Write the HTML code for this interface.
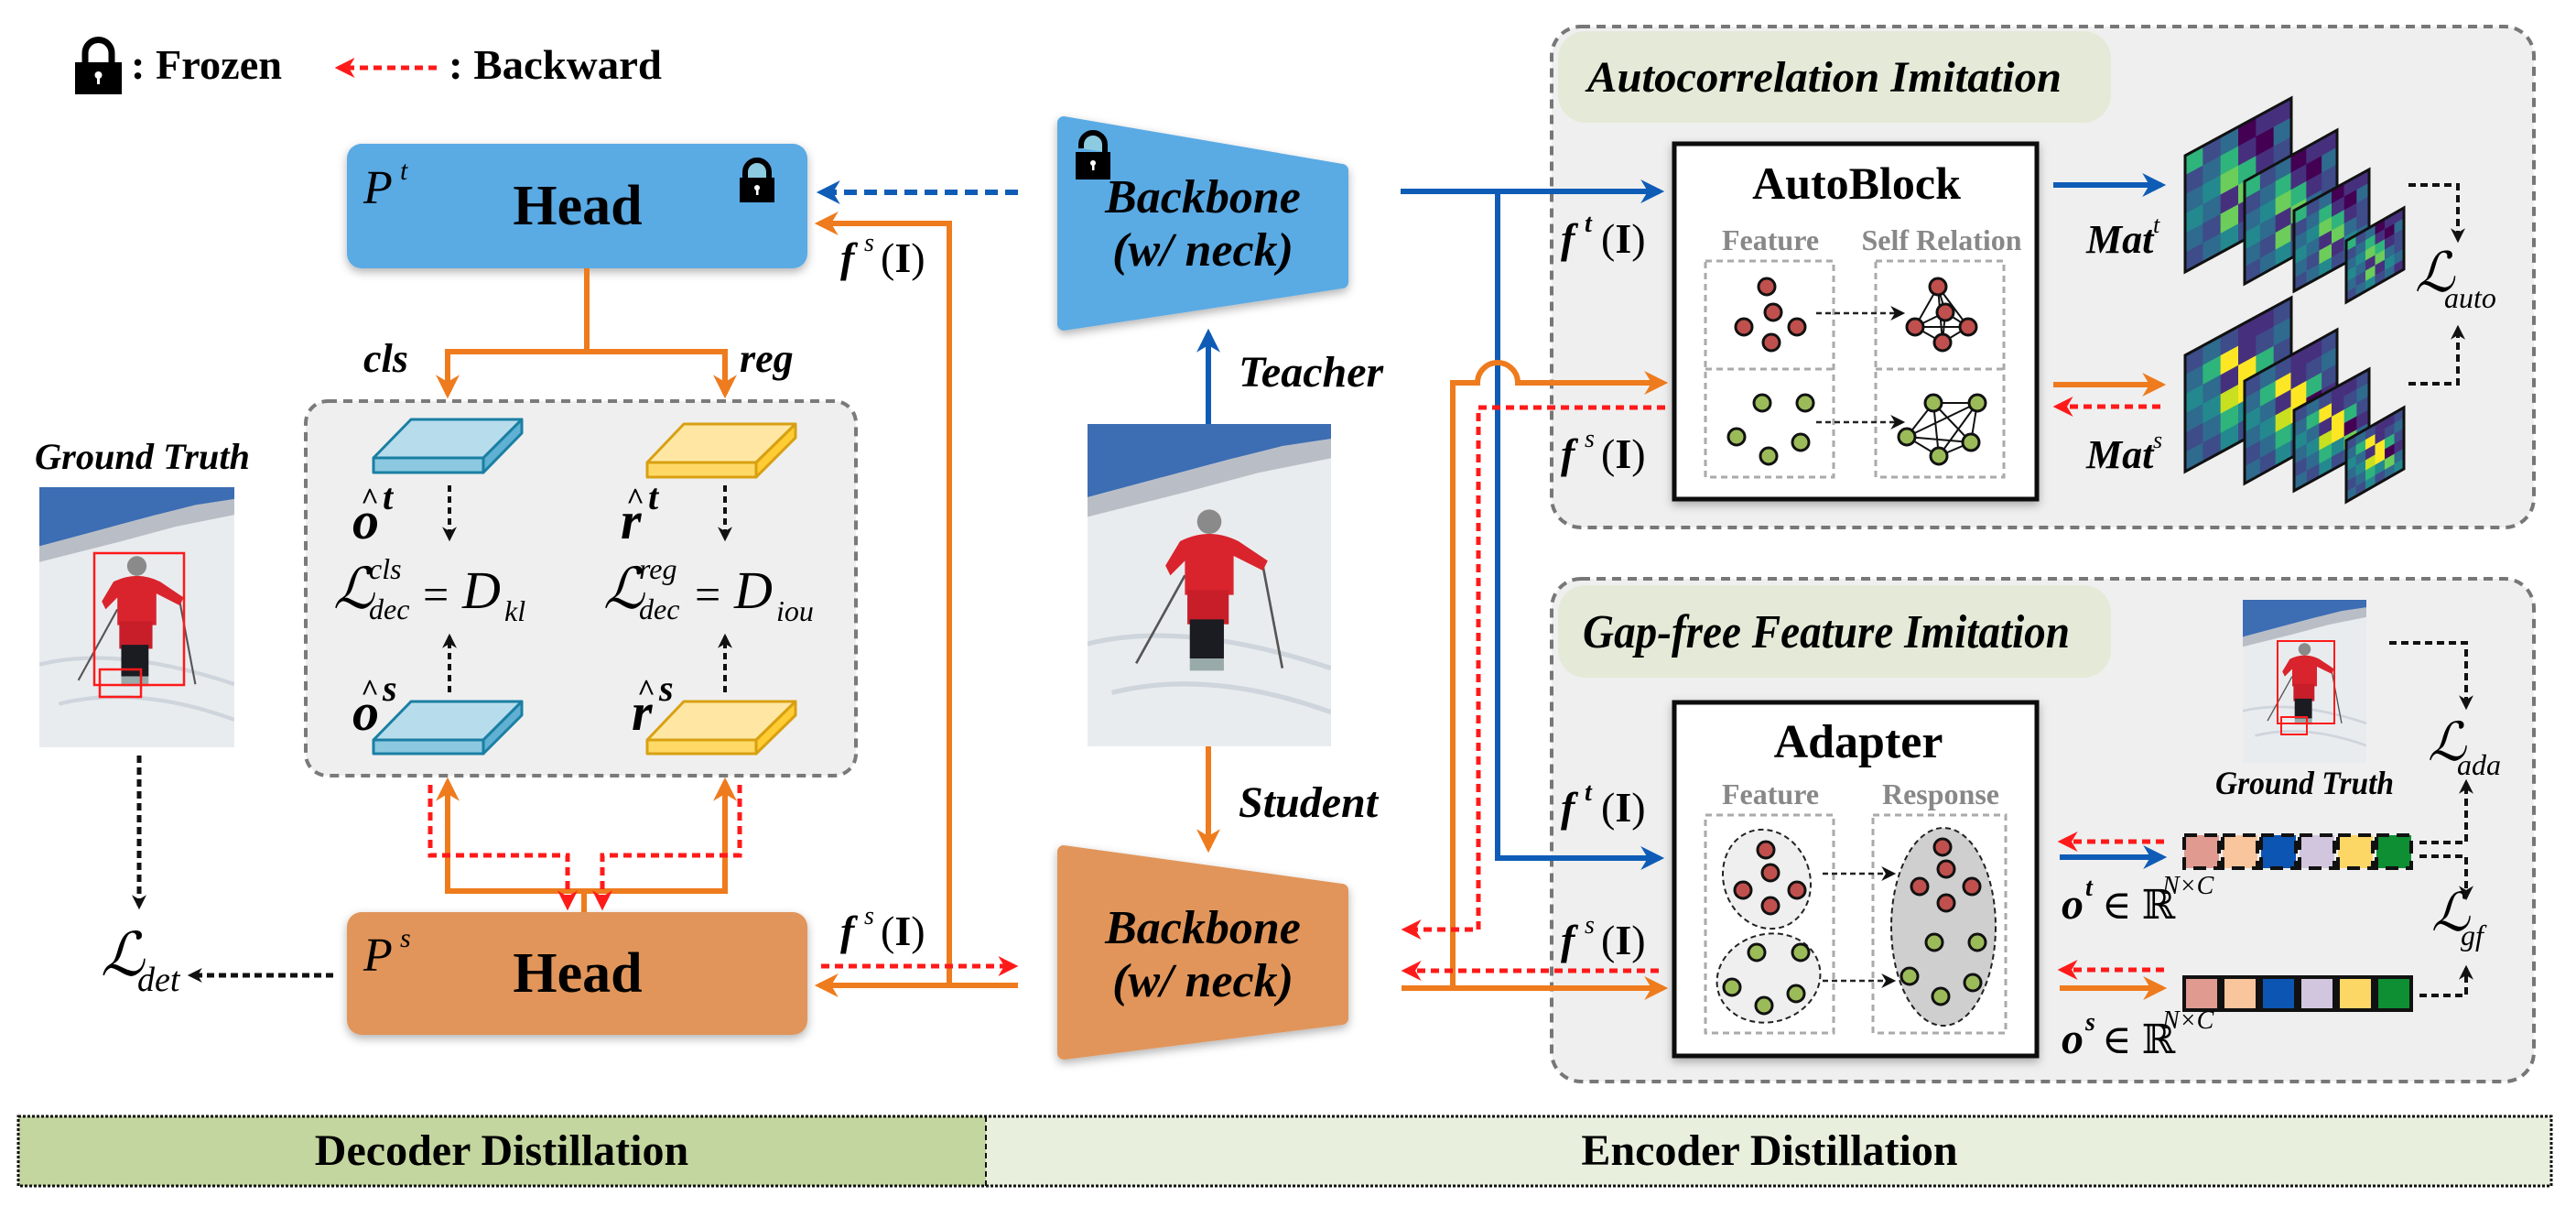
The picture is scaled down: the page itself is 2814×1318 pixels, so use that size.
<!DOCTYPE html>
<html><head><meta charset="utf-8">
<style>
html,body{margin:0;padding:0;background:#fff;}
svg{display:block;font-family:"Liberation Serif","DejaVu Serif",serif;}
text{font-family:"Liberation Serif","DejaVu Serif",serif;}
.b{font-weight:bold;}
.i{font-style:italic;}
</style></head>
<body>
<svg width="2814" height="1318" viewBox="0 0 2814 1318" xmlns="http://www.w3.org/2000/svg" font-family="Liberation Serif, DejaVu Serif, serif">
<defs>
<marker id="ao" viewBox="0 0 10 10" refX="8" refY="5" markerWidth="28" markerHeight="26" markerUnits="userSpaceOnUse" orient="auto"><path d="M0,0 L10,5 L0,10 L3,5z" fill="#ee7b1d"/></marker>
<marker id="ab" viewBox="0 0 10 10" refX="8" refY="5" markerWidth="28" markerHeight="26" markerUnits="userSpaceOnUse" orient="auto"><path d="M0,0 L10,5 L0,10 L3,5z" fill="#0f5cb6"/></marker>
<marker id="ar" viewBox="0 0 10 10" refX="8" refY="5" markerWidth="24" markerHeight="22" markerUnits="userSpaceOnUse" orient="auto"><path d="M0,0 L10,5 L0,10 L3,5z" fill="#ff1a1a"/></marker>
<marker id="ak" viewBox="0 0 10 10" refX="8" refY="5" markerWidth="18" markerHeight="16" markerUnits="userSpaceOnUse" orient="auto"><path d="M0,0 L10,5 L0,10 L3,5z" fill="#111"/></marker>
<filter id="sh" x="-10%" y="-10%" width="120%" height="130%"><feDropShadow dx="0" dy="4" stdDeviation="5" flood-color="#000" flood-opacity="0.3"/></filter>

<symbol id="photo" viewBox="0 0 100 132" preserveAspectRatio="none">
 <rect width="100" height="132" fill="#e9ecef"/>
 <polygon points="0,0 100,0 100,8 60,14 30,22 0,30" fill="#3d6db3"/>
 <polygon points="0,30 30,22 60,14 80,9 100,6 100,14 70,20 40,28 0,38" fill="#b9bec6"/>
 <path d="M0,90 Q40,80 100,100" stroke="#cfd5dc" stroke-width="2" fill="none"/>
 <path d="M10,110 Q50,100 100,118" stroke="#cfd5dc" stroke-width="2" fill="none"/>
 <line x1="40" y1="62" x2="20" y2="98" stroke="#555" stroke-width="1"/>
 <line x1="72" y1="58" x2="80" y2="100" stroke="#555" stroke-width="1"/>
 <circle cx="50" cy="40" r="5" fill="#8a8a8a"/>
 <path d="M38,48 Q50,42 62,48 L74,56 L72,60 L60,54 L60,70 L40,70 L40,56 L34,62 L32,58z" fill="#d9242e"/>
 <rect x="41" y="68" width="17" height="14" fill="#c81e2a"/>
 <rect x="42" y="80" width="14" height="16" fill="#1b1b22"/>
 <rect x="42" y="96" width="14" height="5" fill="#9aa"/>
</symbol>

<g id="ht">
 <rect x="0" y="0" width=".17" height=".17" fill="#2fb47c"/><rect x=".1667" y="0" width=".17" height=".17" fill="#3e4c8a"/><rect x=".3333" y="0" width=".17" height=".17" fill="#2f6b8e"/><rect x=".5" y="0" width=".17" height=".17" fill="#440154"/><rect x=".6667" y="0" width=".17" height=".17" fill="#46307e"/><rect x=".8333" y="0" width=".17" height=".17" fill="#46307e"/>
 <rect x="0" y=".1667" width=".17" height=".17" fill="#3e4c8a"/><rect x=".1667" y=".1667" width=".17" height=".17" fill="#2f6b8e"/><rect x=".3333" y=".1667" width=".17" height=".17" fill="#2fb47c"/><rect x=".5" y=".1667" width=".17" height=".17" fill="#46307e"/><rect x=".6667" y=".1667" width=".17" height=".17" fill="#440154"/><rect x=".8333" y=".1667" width=".17" height=".17" fill="#2f6b8e"/>
 <rect x="0" y=".3333" width=".17" height=".17" fill="#2f6b8e"/><rect x=".1667" y=".3333" width=".17" height=".17" fill="#23898e"/><rect x=".3333" y=".3333" width=".17" height=".17" fill="#6ccd5a"/><rect x=".5" y=".3333" width=".17" height=".17" fill="#2fb47c"/><rect x=".6667" y=".3333" width=".17" height=".17" fill="#46307e"/><rect x=".8333" y=".3333" width=".17" height=".17" fill="#3e4c8a"/>
 <rect x="0" y=".5" width=".17" height=".17" fill="#23898e"/><rect x=".1667" y=".5" width=".17" height=".17" fill="#2f6b8e"/><rect x=".3333" y=".5" width=".17" height=".17" fill="#46307e"/><rect x=".5" y=".5" width=".17" height=".17" fill="#6ccd5a"/><rect x=".6667" y=".5" width=".17" height=".17" fill="#2f6b8e"/><rect x=".8333" y=".5" width=".17" height=".17" fill="#3e4c8a"/>
 <rect x="0" y=".6667" width=".17" height=".17" fill="#2f6b8e"/><rect x=".1667" y=".6667" width=".17" height=".17" fill="#3e4c8a"/><rect x=".3333" y=".6667" width=".17" height=".17" fill="#6ccd5a"/><rect x=".5" y=".6667" width=".17" height=".17" fill="#46307e"/><rect x=".6667" y=".6667" width=".17" height=".17" fill="#23898e"/><rect x=".8333" y=".6667" width=".17" height=".17" fill="#2f6b8e"/>
 <rect x="0" y=".8333" width=".17" height=".17" fill="#3e4c8a"/><rect x=".1667" y=".8333" width=".17" height=".17" fill="#2f6b8e"/><rect x=".3333" y=".8333" width=".17" height=".17" fill="#23898e"/><rect x=".5" y=".8333" width=".17" height=".17" fill="#3e4c8a"/><rect x=".6667" y=".8333" width=".17" height=".17" fill="#2f6b8e"/><rect x=".8333" y=".8333" width=".17" height=".17" fill="#46307e"/>
 <rect x="0" y="0" width="1" height="1" fill="none" stroke="#111" stroke-width="3" vector-effect="non-scaling-stroke"/>
</g>
<g id="hs">
 <rect x="0" y="0" width=".17" height=".17" fill="#3e4c8a"/><rect x=".1667" y="0" width=".17" height=".17" fill="#2f6b8e"/><rect x=".3333" y="0" width=".17" height=".17" fill="#3e4c8a"/><rect x=".5" y="0" width=".17" height=".17" fill="#46307e"/><rect x=".6667" y="0" width=".17" height=".17" fill="#46307e"/><rect x=".8333" y="0" width=".17" height=".17" fill="#3e4c8a"/>
 <rect x="0" y=".1667" width=".17" height=".17" fill="#2f6b8e"/><rect x=".1667" y=".1667" width=".17" height=".17" fill="#2fb47c"/><rect x=".3333" y=".1667" width=".17" height=".17" fill="#fde725"/><rect x=".5" y=".1667" width=".17" height=".17" fill="#46307e"/><rect x=".6667" y=".1667" width=".17" height=".17" fill="#3e4c8a"/><rect x=".8333" y=".1667" width=".17" height=".17" fill="#2f6b8e"/>
 <rect x="0" y=".3333" width=".17" height=".17" fill="#23898e"/><rect x=".1667" y=".3333" width=".17" height=".17" fill="#2f6b8e"/><rect x=".3333" y=".3333" width=".17" height=".17" fill="#46307e"/><rect x=".5" y=".3333" width=".17" height=".17" fill="#fde725"/><rect x=".6667" y=".3333" width=".17" height=".17" fill="#2fb47c"/><rect x=".8333" y=".3333" width=".17" height=".17" fill="#3e4c8a"/>
 <rect x="0" y=".5" width=".17" height=".17" fill="#2f6b8e"/><rect x=".1667" y=".5" width=".17" height=".17" fill="#23898e"/><rect x=".3333" y=".5" width=".17" height=".17" fill="#c8e020"/><rect x=".5" y=".5" width=".17" height=".17" fill="#fde725"/><rect x=".6667" y=".5" width=".17" height=".17" fill="#440154"/><rect x=".8333" y=".5" width=".17" height=".17" fill="#46307e"/>
 <rect x="0" y=".6667" width=".17" height=".17" fill="#3e4c8a"/><rect x=".1667" y=".6667" width=".17" height=".17" fill="#2f6b8e"/><rect x=".3333" y=".6667" width=".17" height=".17" fill="#2fb47c"/><rect x=".5" y=".6667" width=".17" height=".17" fill="#23898e"/><rect x=".6667" y=".6667" width=".17" height=".17" fill="#6ccd5a"/><rect x=".8333" y=".6667" width=".17" height=".17" fill="#2f6b8e"/>
 <rect x="0" y=".8333" width=".17" height=".17" fill="#2f6b8e"/><rect x=".1667" y=".8333" width=".17" height=".17" fill="#3e4c8a"/><rect x=".3333" y=".8333" width=".17" height=".17" fill="#23898e"/><rect x=".5" y=".8333" width=".17" height=".17" fill="#3e4c8a"/><rect x=".6667" y=".8333" width=".17" height=".17" fill="#2f6b8e"/><rect x=".8333" y=".8333" width=".17" height=".17" fill="#23898e"/>
 <rect x="0" y="0" width="1" height="1" fill="none" stroke="#111" stroke-width="3" vector-effect="non-scaling-stroke"/>
</g>
</defs>

<!-- Legend -->
<path d="M93,72 V58 A14.5,14.5 0 0 1 122,58 V72" stroke="#000" stroke-width="7" fill="none"/>
<rect x="82" y="68" width="51" height="35" fill="#000"/>
<circle cx="107.5" cy="82" r="4" fill="#fff"/><rect x="106" y="82" width="3" height="10" fill="#fff"/>
<text x="143" y="86" font-size="46" class="b" textLength="165" lengthAdjust="spacingAndGlyphs">: Frozen</text>
<line x1="477" y1="74" x2="370" y2="74" stroke="#ff1a1a" stroke-width="5" stroke-dasharray="9 6" marker-end="url(#ar)"/>
<text x="490" y="86" font-size="46" class="b" textLength="233" lengthAdjust="spacingAndGlyphs">: Backward</text>

<!-- Teacher head -->
<rect x="379" y="157" width="503" height="136" rx="16" fill="#5aaae4" filter="url(#sh)"/>
<text x="397" y="222" font-size="52" class="i">P</text><text x="437" y="196" font-size="30" class="i">t</text>
<text x="631" y="245" font-size="62" class="b" text-anchor="middle">Head</text>
<path d="M814,196 V188 A13,13 0 0 1 840,188 V196" stroke="#000" stroke-width="6" fill="#8ccbe0"/>
<rect x="808" y="194" width="38" height="27" fill="#000"/>
<circle cx="827" cy="205" r="3" fill="#fff"/><rect x="826" y="205" width="2.5" height="8" fill="#fff"/>

<!-- Student head -->
<rect x="379" y="996" width="503" height="134" rx="16" fill="#e1955a" filter="url(#sh)"/>
<text x="397" y="1060" font-size="52" class="i">P</text><text x="437" y="1034" font-size="30" class="i">s</text>
<text x="631" y="1083" font-size="62" class="b" text-anchor="middle">Head</text>

<!-- decoder internal lines -->
<path d="M641,293 V384" stroke="#ee7b1d" stroke-width="6" fill="none"/>
<path d="M641,384 H489 V430" stroke="#ee7b1d" stroke-width="6" fill="none" marker-end="url(#ao)"/>
<path d="M641,384 H792 V430" stroke="#ee7b1d" stroke-width="6" fill="none" marker-end="url(#ao)"/>
<text x="397" y="406" font-size="44" class="b i">cls</text>
<text x="808" y="406" font-size="44" class="b i">reg</text>

<rect x="334" y="438" width="601" height="409" rx="24" fill="#efefef" stroke="#7a7a7a" stroke-width="4" stroke-dasharray="10 7"/>

<!-- cuboids -->
<g stroke="#1a7fa3" stroke-width="3" stroke-linejoin="round">
 <polygon points="449,458 570,458 528,500 408,500" fill="#b7dcec"/>
 <polygon points="408,500 528,500 528,516 408,516" fill="#8cc8e0"/>
 <polygon points="528,500 570,458 570,473 528,516" fill="#5fb0d2"/>
 <polygon points="449,766 570,766 528,808 408,808" fill="#b7dcec"/>
 <polygon points="408,808 528,808 528,823 408,823" fill="#8cc8e0"/>
 <polygon points="528,808 570,766 570,781 528,823" fill="#5fb0d2"/>
</g>
<g stroke="#d8a012" stroke-width="3" stroke-linejoin="round">
 <polygon points="747,463 869,463 826,505 707,505" fill="#ffe7a3"/>
 <polygon points="707,505 826,505 826,521 707,521" fill="#ffd966"/>
 <polygon points="826,505 869,463 869,478 826,521" fill="#ffcc33"/>
 <polygon points="747,766 869,766 826,808 707,808" fill="#ffe7a3"/>
 <polygon points="707,808 826,808 826,823 707,823" fill="#ffd966"/>
 <polygon points="826,808 869,766 869,781 826,823" fill="#ffcc33"/>
</g>
<g class="b i">
 <text x="385" y="588" font-size="58">o</text><text x="394" y="556" font-size="34">^</text><text x="418" y="556" font-size="40">t</text>
 <text x="678" y="588" font-size="58">r</text><text x="684" y="556" font-size="34">^</text><text x="708" y="556" font-size="40">t</text>
 <text x="385" y="797" font-size="58">o</text><text x="394" y="765" font-size="34">^</text><text x="418" y="765" font-size="40">s</text>
 <text x="690" y="797" font-size="58">r</text><text x="696" y="765" font-size="34">^</text><text x="720" y="765" font-size="40">s</text>
</g>
<g class="i">
 <text x="364" y="664" font-size="62">ℒ</text><text x="403" y="632" font-size="32">cls</text><text x="403" y="676" font-size="32">dec</text>
 <text x="462" y="666" font-size="50" style="font-style:normal">=</text><text x="505" y="664" font-size="58">D</text><text x="551" y="678" font-size="32">kl</text>
 <text x="659" y="664" font-size="62">ℒ</text><text x="698" y="632" font-size="32">reg</text><text x="698" y="676" font-size="32">dec</text>
 <text x="759" y="666" font-size="50" style="font-style:normal">=</text><text x="802" y="664" font-size="58">D</text><text x="848" y="678" font-size="32">iou</text>
</g>
<g stroke="#111" stroke-width="4" stroke-dasharray="7 5" fill="none">
 <path d="M491,530 V588" marker-end="url(#ak)"/><path d="M792,530 V588" marker-end="url(#ak)"/>
 <path d="M491,756 V695" marker-end="url(#ak)"/><path d="M792,756 V695" marker-end="url(#ak)"/>
</g>

<!-- below box -->
<path d="M638,996 V973" stroke="#ee7b1d" stroke-width="6" fill="none"/>
<path d="M638,973 H489 V854" stroke="#ee7b1d" stroke-width="6" fill="none" marker-end="url(#ao)"/>
<path d="M638,973 H792 V854" stroke="#ee7b1d" stroke-width="6" fill="none" marker-end="url(#ao)"/>
<path d="M470,857 V934 H620 V990" stroke="#ff1a1a" stroke-width="5" stroke-dasharray="9 6" fill="none" marker-end="url(#ar)"/>
<path d="M808,857 V934 H658 V990" stroke="#ff1a1a" stroke-width="5" stroke-dasharray="9 6" fill="none" marker-end="url(#ar)"/>

<!-- ground truth left -->
<text x="38" y="512" font-size="40" class="b i" textLength="235" lengthAdjust="spacingAndGlyphs">Ground Truth</text>
<use href="#photo" x="43" y="532" width="213" height="284"/>
<rect x="103" y="604" width="98" height="144" fill="none" stroke="#ff1a1a" stroke-width="2.5"/>
<rect x="109" y="731" width="45" height="30" fill="none" stroke="#ff1a1a" stroke-width="2.5"/>
<path d="M152,825 V990" stroke="#111" stroke-width="5" stroke-dasharray="8 5" fill="none" marker-end="url(#ak)"/>
<text x="110" y="1065" font-size="66" class="i">ℒ</text><text x="150" y="1082" font-size="38" class="i">det</text>
<path d="M364,1065 H208" stroke="#111" stroke-width="5" stroke-dasharray="8 5" fill="none" marker-end="url(#ak)"/>

<!-- left connectors -->
<path d="M1112,210 H897" stroke="#0f5cb6" stroke-width="6" stroke-dasharray="14 8" fill="none" marker-end="url(#ab)"/>
<path d="M1037,1076 V244 H895" stroke="#ee7b1d" stroke-width="6" fill="none" marker-end="url(#ao)"/>
<path d="M1112,1076 H895" stroke="#ee7b1d" stroke-width="6" fill="none" marker-end="url(#ao)"/>
<path d="M897,1055 H1108" stroke="#ff1a1a" stroke-width="5" stroke-dasharray="9 6" fill="none" marker-end="url(#ar)"/>
<text x="918" y="297" font-size="46" class="b i">f</text><text x="944" y="274" font-size="28" class="i">s</text><text x="962" y="297" font-size="46">(<tspan class="b">I</tspan>)</text>
<text x="918" y="1032" font-size="46" class="b i">f</text><text x="944" y="1009" font-size="28" class="i">s</text><text x="962" y="1032" font-size="46">(<tspan class="b">I</tspan>)</text>

<!-- backbones -->
<polygon points="1162,134 1466,186 1466,308 1162,354" fill="#5aaae4" stroke="#5aaae4" stroke-width="14" stroke-linejoin="round" filter="url(#sh)"/>
<path d="M1181,162 V158 A13,13 0 0 1 1207,158 V166" stroke="#000" stroke-width="6" fill="#8ccbe0"/>
<rect x="1175" y="166" width="38" height="30" fill="#000"/>
<circle cx="1194" cy="178" r="3" fill="#fff"/><rect x="1193" y="178" width="2.5" height="8" fill="#fff"/>
<text x="1314" y="232" font-size="52" class="b i" text-anchor="middle">Backbone</text>
<text x="1314" y="290" font-size="52" class="b i" text-anchor="middle">(w/ neck)</text>

<polygon points="1162,930 1466,972 1466,1112 1162,1150" fill="#e1955a" stroke="#e1955a" stroke-width="14" stroke-linejoin="round" filter="url(#sh)"/>
<text x="1314" y="1030" font-size="52" class="b i" text-anchor="middle">Backbone</text>
<text x="1314" y="1088" font-size="52" class="b i" text-anchor="middle">(w/ neck)</text>

<path d="M1320,463 V364" stroke="#0f5cb6" stroke-width="6" fill="none" marker-end="url(#ab)"/>
<text x="1353" y="422" font-size="48" class="b i">Teacher</text>
<use href="#photo" x="1188" y="463" width="266" height="352"/>
<path d="M1320,815 V926" stroke="#ee7b1d" stroke-width="6" fill="none" marker-end="url(#ao)"/>
<text x="1353" y="892" font-size="48" class="b i">Student</text>

<!-- panels -->
<rect x="1695" y="29" width="1073" height="547" rx="32" fill="#efefef" stroke="#777" stroke-width="4" stroke-dasharray="10 7"/>
<rect x="1702" y="34" width="604" height="100" rx="30" fill="#e4ead7"/>
<text x="1734" y="100" font-size="48" class="b i" textLength="518" lengthAdjust="spacingAndGlyphs">Autocorrelation  Imitation</text>
<rect x="1695" y="632" width="1073" height="549" rx="32" fill="#efefef" stroke="#777" stroke-width="4" stroke-dasharray="10 7"/>
<rect x="1702" y="639" width="604" height="101" rx="30" fill="#e4ead7"/>
<text x="1729" y="707" font-size="52" class="b i" textLength="532" lengthAdjust="spacingAndGlyphs">Gap-free Feature Imitation</text>

<!-- right connectors -->
<path d="M1530,209 H1813" stroke="#0f5cb6" stroke-width="6" fill="none" marker-end="url(#ab)"/>
<path d="M1636,209 V937 H1813" stroke="#0f5cb6" stroke-width="6" fill="none" marker-end="url(#ab)"/>
<path d="M1531,1079 H1817" stroke="#ee7b1d" stroke-width="6" fill="none" marker-end="url(#ao)"/>
<path d="M1587,1079 V418 H1614 A22,22 0 0 1 1658,418 H1817" stroke="#ee7b1d" stroke-width="6" fill="none" marker-end="url(#ao)"/>
<path d="M1819,445 H1615 V1015 H1535" stroke="#ff1a1a" stroke-width="5" stroke-dasharray="9 6" fill="none" marker-end="url(#ar)"/>
<path d="M1812,1060 H1535" stroke="#ff1a1a" stroke-width="5" stroke-dasharray="9 6" fill="none" marker-end="url(#ar)"/>

<g>
<text x="1705" y="276" font-size="46" class="b i">f</text><text x="1731" y="253" font-size="28" class="b i">t</text><text x="1749" y="276" font-size="46">(<tspan class="b">I</tspan>)</text>
<text x="1705" y="511" font-size="46" class="b i">f</text><text x="1731" y="488" font-size="28" class="i">s</text><text x="1749" y="511" font-size="46">(<tspan class="b">I</tspan>)</text>
<text x="1705" y="897" font-size="46" class="b i">f</text><text x="1731" y="874" font-size="28" class="b i">t</text><text x="1749" y="897" font-size="46">(<tspan class="b">I</tspan>)</text>
<text x="1705" y="1042" font-size="46" class="b i">f</text><text x="1731" y="1019" font-size="28" class="i">s</text><text x="1749" y="1042" font-size="46">(<tspan class="b">I</tspan>)</text>
</g>

<!-- AutoBlock -->
<rect x="1829" y="157" width="396" height="388" fill="#fff" stroke="#111" stroke-width="5" filter="url(#sh)"/>
<text x="2028" y="217" font-size="50" class="b" text-anchor="middle">AutoBlock</text>
<text x="1934" y="273" font-size="32" class="b" fill="#888" text-anchor="middle">Feature</text>
<text x="2121" y="273" font-size="32" class="b" fill="#888" text-anchor="middle">Self Relation</text>
<g fill="none" stroke="#aaa" stroke-width="3" stroke-dasharray="7 5">
 <rect x="1863" y="285" width="140" height="236"/><line x1="1863" y1="403" x2="2003" y2="403"/>
 <rect x="2049" y="285" width="140" height="236"/><line x1="2049" y1="403" x2="2189" y2="403"/>
</g>
<g stroke="#222" stroke-width="2.5" stroke-dasharray="6 4" fill="none">
 <path d="M1984,342 H2078" marker-end="url(#ak)"/><path d="M1984,461 H2078" marker-end="url(#ak)"/>
</g>
<g stroke="#111" stroke-width="2" fill="none">
 <path d="M2117,313 L2092,357 L2122,374 L2150,357 Z M2117,313 L2125,341 L2122,374 M2092,357 L2150,357 M2092,357 L2125,341 L2150,357 M2117,313 L2122,374"/>
 <path d="M2112,440 L2160,440 L2153,483 L2118,498 L2083,477 Z M2112,440 L2153,483 M2112,440 L2118,498 M2160,440 L2083,477 M2160,440 L2118,498 M2083,477 L2153,483"/>
</g>
<g fill="#c0504d" stroke="#111" stroke-width="3">
 <circle cx="1930" cy="313" r="9"/><circle cx="1937" cy="341" r="9"/><circle cx="1905" cy="357" r="9"/><circle cx="1963" cy="357" r="9"/><circle cx="1935" cy="374" r="9"/>
 <circle cx="2117" cy="313" r="9"/><circle cx="2125" cy="341" r="9"/><circle cx="2092" cy="357" r="9"/><circle cx="2150" cy="357" r="9"/><circle cx="2122" cy="374" r="9"/>
</g>
<g fill="#9bbb59" stroke="#111" stroke-width="3">
 <circle cx="1925" cy="440" r="9"/><circle cx="1972" cy="440" r="9"/><circle cx="1897" cy="477" r="9"/><circle cx="1967" cy="483" r="9"/><circle cx="1932" cy="498" r="9"/>
 <circle cx="2112" cy="440" r="9"/><circle cx="2160" cy="440" r="9"/><circle cx="2083" cy="477" r="9"/><circle cx="2153" cy="483" r="9"/><circle cx="2118" cy="498" r="9"/>
</g>

<!-- Mat arrows -->
<path d="M2243,202 H2361" stroke="#0f5cb6" stroke-width="6" fill="none" marker-end="url(#ab)"/>
<path d="M2243,420 H2361" stroke="#ee7b1d" stroke-width="6" fill="none" marker-end="url(#ao)"/>
<path d="M2360,444 H2247" stroke="#ff1a1a" stroke-width="5" stroke-dasharray="9 6" fill="none" marker-end="url(#ar)"/>
<text x="2279" y="276" font-size="44" class="b i">Mat</text><text x="2352" y="254" font-size="26" class="i">t</text>
<text x="2279" y="511" font-size="44" class="b i">Mat</text><text x="2352" y="489" font-size="26" class="i">s</text>

<!-- heatmaps -->
<use href="#ht" transform="matrix(116,-63,0,127,2387,170)"/>
<use href="#ht" transform="matrix(101,-56,0,112,2452,198)"/>
<use href="#ht" transform="matrix(82,-45,0,88,2506,230)"/>
<use href="#ht" transform="matrix(63,-36,0,67,2563,263)"/>
<use href="#hs" transform="matrix(116,-63,0,127,2387,388)"/>
<use href="#hs" transform="matrix(101,-56,0,112,2452,416)"/>
<use href="#hs" transform="matrix(82,-45,0,88,2506,448)"/>
<use href="#hs" transform="matrix(63,-36,0,67,2563,481)"/>

<text x="2638" y="318" font-size="60" class="i">ℒ</text><text x="2670" y="336" font-size="32" class="i">auto</text>
<g stroke="#111" stroke-width="4" stroke-dasharray="8 5" fill="none">
 <path d="M2631,202 H2685 V262" marker-end="url(#ak)"/>
 <path d="M2631,419 H2685 V358" marker-end="url(#ak)"/>
</g>

<!-- Adapter -->
<rect x="1829" y="767" width="396" height="386" fill="#fff" stroke="#111" stroke-width="5" filter="url(#sh)"/>
<text x="2030" y="827" font-size="52" class="b" text-anchor="middle">Adapter</text>
<text x="1934" y="878" font-size="32" class="b" fill="#888" text-anchor="middle">Feature</text>
<text x="2120" y="878" font-size="32" class="b" fill="#888" text-anchor="middle">Response</text>
<g fill="none" stroke="#aaa" stroke-width="3" stroke-dasharray="7 5">
 <rect x="1863" y="890" width="140" height="238"/>
 <rect x="2046" y="890" width="145" height="238"/>
</g>
<g stroke="#222" stroke-width="2" stroke-dasharray="6 4">
 <ellipse cx="1930" cy="960" rx="47" ry="55" transform="rotate(-20 1930 960)" fill="#efefef"/>
 <ellipse cx="1932" cy="1068" rx="57" ry="48" transform="rotate(-15 1932 1068)" fill="#efefef"/>
 <ellipse cx="2123" cy="1012" rx="57" ry="108" fill="#cfcfcf"/>
</g>
<g stroke="#222" stroke-width="2.5" stroke-dasharray="6 4" fill="none">
 <path d="M1991,954 H2068" marker-end="url(#ak)"/><path d="M1991,1071 H2068" marker-end="url(#ak)"/>
</g>
<g fill="#c0504d" stroke="#111" stroke-width="3">
 <circle cx="1929" cy="928" r="9"/><circle cx="1934" cy="953" r="9"/><circle cx="1904" cy="972" r="9"/><circle cx="1963" cy="972" r="9"/><circle cx="1934" cy="989" r="9"/>
 <circle cx="2122" cy="925" r="9"/><circle cx="2126" cy="949" r="9"/><circle cx="2097" cy="968" r="9"/><circle cx="2154" cy="968" r="9"/><circle cx="2126" cy="986" r="9"/>
</g>
<g fill="#9bbb59" stroke="#111" stroke-width="3">
 <circle cx="1919" cy="1040" r="9"/><circle cx="1967" cy="1040" r="9"/><circle cx="1892" cy="1078" r="9"/><circle cx="1962" cy="1085" r="9"/><circle cx="1927" cy="1098" r="9"/>
 <circle cx="2113" cy="1029" r="9"/><circle cx="2160" cy="1029" r="9"/><circle cx="2086" cy="1066" r="9"/><circle cx="2155" cy="1073" r="9"/><circle cx="2120" cy="1088" r="9"/>
</g>

<!-- GT small -->
<use href="#photo" x="2450" y="655" width="135" height="178"/>
<rect x="2488" y="700" width="62" height="90" fill="none" stroke="#ff1a1a" stroke-width="2"/>
<rect x="2492" y="783" width="28" height="19" fill="none" stroke="#ff1a1a" stroke-width="2"/>
<text x="2420" y="867" font-size="36" class="b i" textLength="195" lengthAdjust="spacingAndGlyphs">Ground Truth</text>
<text x="2652" y="830" font-size="58" class="i">ℒ</text><text x="2684" y="846" font-size="32" class="i">ada</text>
<text x="2656" y="1016" font-size="58" class="i">ℒ</text><text x="2688" y="1032" font-size="32" class="i">gf</text>

<g stroke="#111" stroke-width="4" stroke-dasharray="8 5" fill="none">
 <path d="M2610,702 H2694 V772" marker-end="url(#ak)"/>
 <path d="M2643,920 H2694 V854" marker-end="url(#ak)"/>
 <path d="M2643,935 H2694 V980" marker-end="url(#ak)"/>
 <path d="M2643,1087 H2694 V1057" marker-end="url(#ak)"/>
</g>

<!-- response vectors -->
<path d="M2364,919 H2252" stroke="#ff1a1a" stroke-width="5" stroke-dasharray="9 6" fill="none" marker-end="url(#ar)"/>
<path d="M2250,936 H2362" stroke="#0f5cb6" stroke-width="6" fill="none" marker-end="url(#ab)"/>
<path d="M2364,1059 H2252" stroke="#ff1a1a" stroke-width="5" stroke-dasharray="9 6" fill="none" marker-end="url(#ar)"/>
<path d="M2250,1079 H2362" stroke="#ee7b1d" stroke-width="6" fill="none" marker-end="url(#ao)"/>
<g stroke="#111" stroke-width="4" stroke-dasharray="14 8">
 <rect x="2386" y="912" width="38" height="36" fill="#e09a90"/>
 <rect x="2428" y="912" width="38" height="36" fill="#f9c59d"/>
 <rect x="2470" y="912" width="38" height="36" fill="#0c55b3"/>
 <rect x="2512" y="912" width="38" height="36" fill="#d2c6de"/>
 <rect x="2554" y="912" width="38" height="36" fill="#fcd765"/>
 <rect x="2596" y="912" width="38" height="36" fill="#0e8f33"/>
</g>
<g stroke="#111" stroke-width="4">
 <rect x="2386" y="1067" width="38" height="36" fill="#e09a90"/>
 <rect x="2428" y="1067" width="38" height="36" fill="#f9c59d"/>
 <rect x="2470" y="1067" width="38" height="36" fill="#0c55b3"/>
 <rect x="2512" y="1067" width="38" height="36" fill="#d2c6de"/>
 <rect x="2554" y="1067" width="38" height="36" fill="#fcd765"/>
 <rect x="2596" y="1067" width="38" height="36" fill="#0e8f33"/>
</g>
<text x="2252" y="1003" font-size="48" class="b i">o</text><text x="2278" y="978" font-size="28" class="b i">t</text>
<text x="2296" y="1003" font-size="44">∈ ℝ</text><text x="2362" y="976" font-size="28" class="i">N×C</text>
<text x="2252" y="1150" font-size="48" class="b i">o</text><text x="2278" y="1125" font-size="28" class="b i">s</text>
<text x="2296" y="1150" font-size="44">∈ ℝ</text><text x="2362" y="1123" font-size="28" class="i">N×C</text>

<!-- bottom bar -->
<rect x="20" y="1219" width="1057" height="76" fill="#c4d69f"/>
<rect x="1077" y="1219" width="1710" height="76" fill="#e8efdd"/>
<rect x="20" y="1219" width="2767" height="76" fill="none" stroke="#111" stroke-width="3" stroke-dasharray="3 2"/>
<line x1="1077" y1="1219" x2="1077" y2="1295" stroke="#111" stroke-width="2" stroke-dasharray="6 4"/>
<text x="548" y="1272" font-size="48" class="b" text-anchor="middle">Decoder Distillation</text>
<text x="1933" y="1272" font-size="48" class="b" text-anchor="middle">Encoder Distillation</text>
</svg>
</body></html>
